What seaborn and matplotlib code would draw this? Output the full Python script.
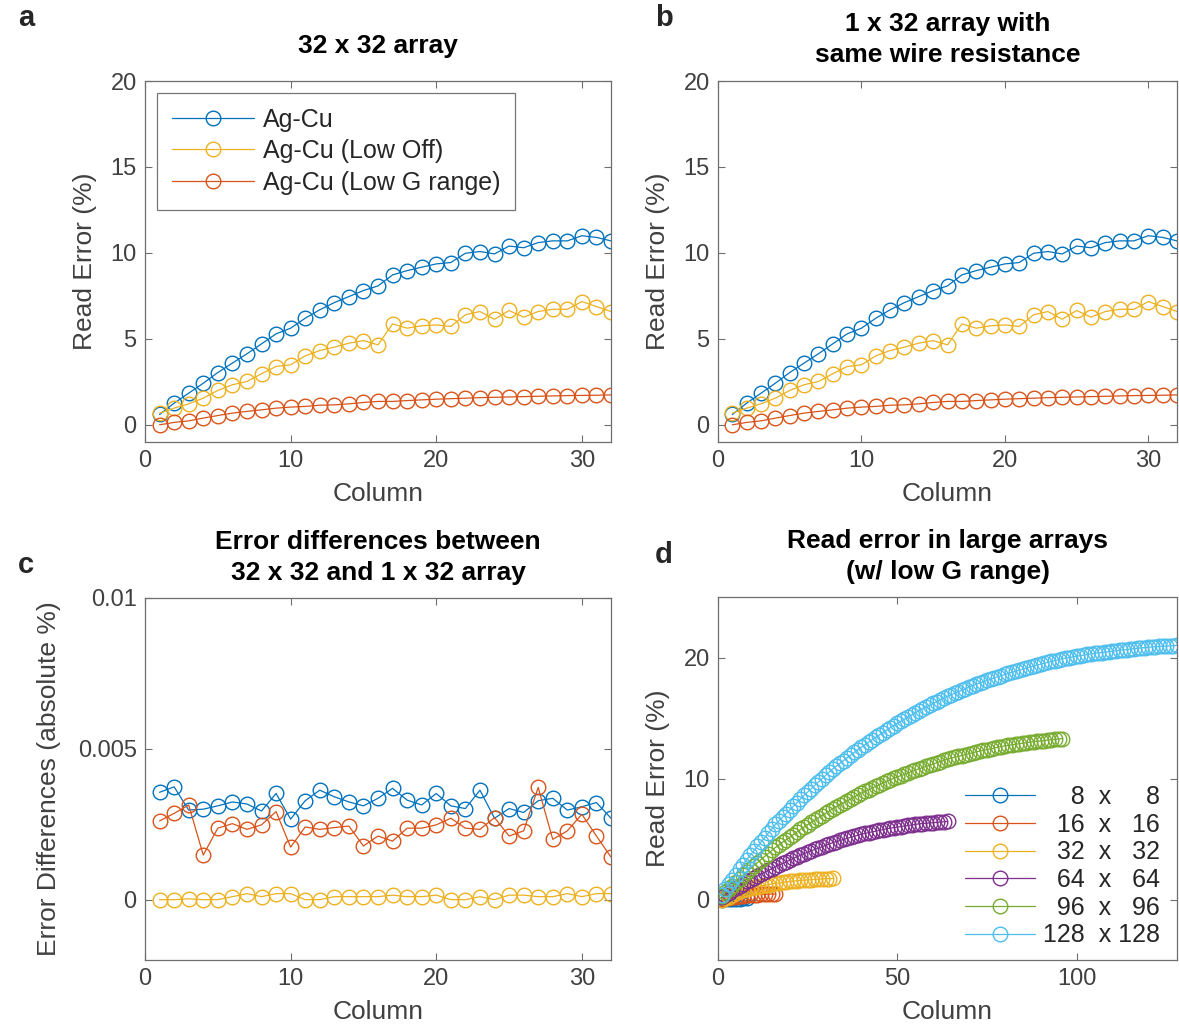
import numpy as np
import pandas as pd
import seaborn as sns
import matplotlib
matplotlib.use("Agg")
import matplotlib.pyplot as plt
from matplotlib.ticker import FuncFormatter

# ---------------- data ----------------
cols32 = list(range(1, 33))

agcu = [0.6, 1.26, 1.84, 2.42, 3.04, 3.59, 4.13, 4.71, 5.29, 5.62, 6.2, 6.69, 7.11, 7.46, 7.81, 8.08,
        8.72, 8.97, 9.17, 9.36, 9.44, 9.98, 10.08, 9.94, 10.4, 10.3, 10.6, 10.7, 10.7, 11.0, 10.9, 10.7]
agcu_low_off = [0.68, 0.97, 1.22, 1.55, 2.0, 2.33, 2.52, 2.97, 3.39, 3.49, 4.01, 4.32, 4.52, 4.75, 4.9, 4.65,
                5.87, 5.62, 5.76, 5.81, 5.72, 6.4, 6.59, 6.14, 6.65, 6.26, 6.59, 6.72, 6.72, 7.17, 6.88, 6.59]
agcu_low_g = [0.0, 0.14, 0.23, 0.39, 0.54, 0.68, 0.78, 0.87, 0.97, 1.03, 1.07, 1.14, 1.16, 1.22, 1.3, 1.36,
              1.36, 1.41, 1.45, 1.49, 1.52, 1.55, 1.58, 1.6, 1.62, 1.64, 1.66, 1.68, 1.7, 1.71, 1.72, 1.74]

diff_agcu = [0.00356, 0.00374, 0.00297, 0.0030, 0.00311, 0.00324, 0.00317, 0.00294, 0.00352, 0.00267,
             0.00328, 0.00363, 0.00341, 0.00324, 0.00311, 0.00336, 0.00369, 0.0033, 0.00314, 0.00352,
             0.00311, 0.00302, 0.00363, 0.0027, 0.00302, 0.00289, 0.00328, 0.00336, 0.00297, 0.00308,
             0.00322, 0.0027]
diff_low_off = [0.0, 0.0, 0.00003, 0.0, 0.0, 0.0001, 0.0002, 0.0001, 0.0002, 0.0002, 0.0, 0.0, 0.0001,
                0.0001, 0.0001, 0.0001, 0.00015, 0.0001, 0.0001, 0.00015, 0.0, 0.0, 0.0001, 0.0,
                0.00015, 0.00015, 0.0001, 0.0001, 0.0002, 0.0001, 0.0002, 0.0002]
diff_low_g = [0.00261, 0.00286, 0.00314, 0.00148, 0.00237, 0.00252, 0.00233, 0.00248, 0.00292, 0.00174,
              0.00241, 0.00233, 0.00239, 0.00244, 0.00178, 0.00211, 0.00194, 0.00237, 0.00237, 0.00248,
              0.0027, 0.00237, 0.00233, 0.00272, 0.00211, 0.00228, 0.00372, 0.002, 0.00228, 0.00283,
              0.00211, 0.00141]

err_8 = [0.0, 0.02, 0.04, 0.06, 0.07, 0.08, 0.09, 0.1]
err_16 = [0.05, 0.1, 0.15, 0.2, 0.24, 0.28, 0.31, 0.34, 0.37, 0.39, 0.41, 0.42, 0.43, 0.44, 0.45, 0.45]
err_32 = agcu_low_g
err_64 = [0.19, 0.38, 0.56, 0.75, 0.94, 1.13, 1.31, 1.50, 1.65, 1.80, 1.95, 2.10, 2.25, 2.40, 2.55, 2.70,
          2.84, 2.98, 3.11, 3.25, 3.39, 3.53, 3.66, 3.80, 3.91, 4.03, 4.14, 4.25, 4.36, 4.48, 4.59, 4.70,
          4.79, 4.88, 4.96, 5.05, 5.14, 5.23, 5.31, 5.40, 5.46, 5.53, 5.59, 5.65, 5.71, 5.78, 5.84, 5.90,
          5.94, 5.99, 6.03, 6.08, 6.12, 6.16, 6.21, 6.25, 6.28, 6.30, 6.33, 6.35, 6.38, 6.40, 6.43, 6.45]
err_96 = [0.29, 0.58, 0.86, 1.15, 1.44, 1.73, 2.01, 2.30, 2.55, 2.80, 3.05, 3.30, 3.55, 3.80, 4.05, 4.30,
          4.51, 4.73, 4.94, 5.15, 5.36, 5.58, 5.79, 6.00, 6.19, 6.38, 6.56, 6.75, 6.94, 7.13, 7.31, 7.50,
          7.66, 7.83, 7.99, 8.15, 8.31, 8.48, 8.64, 8.80, 8.94, 9.08, 9.21, 9.35, 9.49, 9.63, 9.76, 9.90,
          10.01, 10.13, 10.24, 10.35, 10.46, 10.58, 10.69, 10.80, 10.9, 11.0, 11.1, 11.2, 11.3, 11.4, 11.5, 11.6,
          11.68, 11.75, 11.83, 11.90, 11.98, 12.05, 12.13, 12.20, 12.26, 12.33, 12.39, 12.45, 12.51, 12.58, 12.64, 12.70,
          12.74, 12.79, 12.83, 12.88, 12.92, 12.96, 13.01, 13.05, 13.08, 13.11, 13.14, 13.18, 13.21, 13.24, 13.27, 13.30]
err_128 = [0.41, 0.83, 1.24, 1.65, 2.06, 2.48, 2.89, 3.30, 3.66, 4.03, 4.39, 4.75, 5.11, 5.48, 5.84, 6.20,
           6.50, 6.80, 7.10, 7.40, 7.70, 8.00, 8.30, 8.60, 8.88, 9.15, 9.43, 9.70, 9.98, 10.25, 10.53, 10.80,
           11.03, 11.25, 11.48, 11.70, 11.93, 12.15, 12.38, 12.60, 12.8, 13.0, 13.2, 13.4, 13.6, 13.8, 14.0, 14.2,
           14.38, 14.55, 14.73, 14.90, 15.08, 15.25, 15.43, 15.60, 15.75, 15.90, 16.05, 16.20, 16.35, 16.50, 16.65, 16.80,
           16.93, 17.05, 17.18, 17.30, 17.43, 17.55, 17.68, 17.80, 17.9, 18.0, 18.1, 18.2, 18.3, 18.4, 18.5, 18.6,
           18.69, 18.78, 18.86, 18.95, 19.04, 19.13, 19.21, 19.30, 19.38, 19.45, 19.53, 19.60, 19.68, 19.75, 19.83, 19.90,
           19.95, 20.00, 20.05, 20.10, 20.15, 20.20, 20.25, 20.30, 20.34, 20.38, 20.41, 20.45, 20.49, 20.53, 20.56, 20.60,
           20.63, 20.66, 20.69, 20.73, 20.76, 20.79, 20.82, 20.85, 20.87, 20.89, 20.91, 20.93, 20.94, 20.96, 20.98, 21.00]

series_ab = ["Ag-Cu", "Ag-Cu (Low Off)", "Ag-Cu (Low G range)"]
sizes_d = [8, 16, 32, 64, 96, 128]

C_BLUE, C_RED, C_YEL, C_PUR, C_GRN, C_CYA = "#0072BD", "#D95319", "#EDB120", "#7E2F8E", "#77AC30", "#4DBEEE"

# ---------------- style ----------------
sns.set_theme(style="white")
plt.rcParams["font.family"] = ["Liberation Sans", "DejaVu Sans"]

W, H = 1179, 1027
fig = plt.figure(figsize=(W / 100, H / 100), dpi=100)

def px_axes(l, t, r, b):
    return fig.add_axes([l / W, 1 - b / H, (r - l) / W, (b - t) / H])

ax_a = px_axes(145, 81, 611, 442)
ax_b = px_axes(718, 81, 1177, 442)
ax_c = px_axes(145, 598, 611, 960)
ax_d = px_axes(718, 597, 1177, 960)

SPINE = "#6e6e6e"
TICKLAB = "#404040"

def style(ax, xlim, ylim, xticks, yticks):
    ax.set_xlim(*xlim)
    ax.set_ylim(*ylim)
    ax.set_xticks(xticks)
    ax.set_yticks(yticks)
    ax.tick_params(direction="in", length=5, width=0.8, top=True, right=True,
                   bottom=True, left=True, color=SPINE, labelcolor=TICKLAB,
                   labelsize=17, pad=6)
    for s in ax.spines.values():
        s.set_color(SPINE)
        s.set_linewidth(0.9)
        s.set_visible(True)
    ax.grid(False)
    ax.set_facecolor("white")

def draw(ax, x, y, color, label=None, ms=10.5):
    sns.lineplot(x=x, y=y, ax=ax, color=color, linewidth=0.9, marker="o",
                 markersize=ms, markerfacecolor="none", markeredgecolor=color,
                 markeredgewidth=1.0, label=label, legend=False, sort=False,
                 estimator=None)

LAB = dict(fontsize=19, color=TICKLAB)
TIT = dict(fontsize=19, fontweight="bold", color="black")

# panels a and b
for ax in (ax_a, ax_b):
    for vals, col, lab in zip([agcu, agcu_low_off, agcu_low_g], [C_BLUE, C_YEL, C_RED], series_ab):
        draw(ax, cols32, vals, col, lab)
    style(ax, (0, 32), (-1, 20), [0, 10, 20, 30], [0, 5, 10, 15, 20])
    ax.set_xlabel("Column", labelpad=7, **LAB)
    ax.set_ylabel("Read Error (%)", labelpad=10, **LAB)

ax_a.set_title("32 x 32 array", pad=20, **TIT)
ax_b.set_title("1 x 32 array with\nsame wire resistance", pad=14, linespacing=1.35, **TIT)

leg = ax_a.legend(loc="upper left", fontsize=18, handlelength=3.3, handletextpad=0.35,
                  labelspacing=0.3, borderpad=0.6, frameon=True, fancybox=False,
                  bbox_to_anchor=(0.025, 0.968), borderaxespad=0.0)
leg.get_frame().set_edgecolor("#555555")
leg.get_frame().set_linewidth(0.9)

# panel c
for vals, col in zip([diff_agcu, diff_low_off, diff_low_g], [C_BLUE, C_YEL, C_RED]):
    draw(ax_c, cols32, vals, col)
style(ax_c, (0, 32), (-0.002, 0.01), [0, 10, 20, 30], [0, 0.005, 0.01])
ax_c.yaxis.set_major_formatter(FuncFormatter(lambda v, p: f"{v:g}"))
ax_c.set_xlabel("Column", labelpad=7, **LAB)
ax_c.set_ylabel("Error Differences (absolute %)", labelpad=12, **LAB)
ax_c.set_title("Error differences between\n32 x 32 and 1 x 32 array", pad=13, linespacing=1.35, **TIT)

# panel d
for n, vals, col in zip(sizes_d, [err_8, err_16, err_32, err_64, err_96, err_128],
                        [C_BLUE, C_RED, C_YEL, C_PUR, C_GRN, C_CYA]):
    lab = str(n).rjust(3, "\u2007") + "  x " + str(n).rjust(3, "\u2007")
    draw(ax_d, list(range(1, n + 1)), vals, col, lab)
style(ax_d, (0, 128), (-5, 25), [0, 50, 100], [0, 10, 20])
ax_d.set_xlabel("Column", labelpad=7, **LAB)
ax_d.set_ylabel("Read Error (%)", labelpad=10, **LAB)
ax_d.set_title("Read error in large arrays\n(w/ low G range)", pad=13, linespacing=1.35, **TIT)
ax_d.legend(loc="lower right", fontsize=18, frameon=False, handlelength=2.8,
            handletextpad=0.3, labelspacing=0.15, borderaxespad=0.1,
            bbox_to_anchor=(0.99, 0.0))

# panel letters
for ch, (x, y) in zip("abcd", [(18, 18), (655, 18), (18, 565), (655, 555)]):
    fig.text(x / W, 1 - y / H, ch, fontsize=21, fontweight="bold", va="center", ha="left")

fig.savefig("out.png", dpi=100, facecolor="white")
